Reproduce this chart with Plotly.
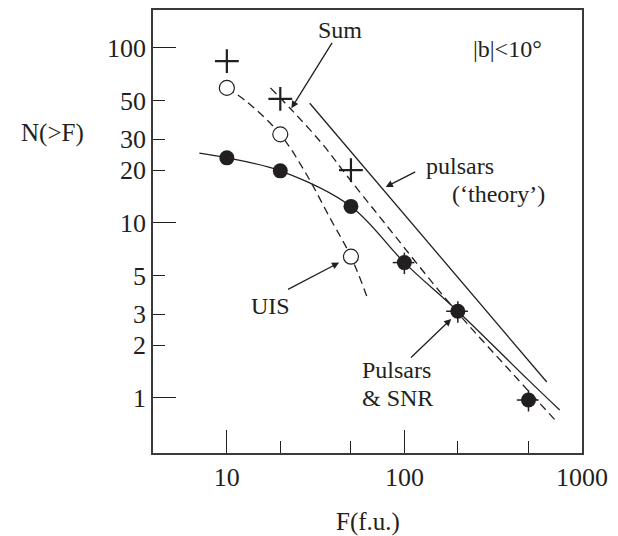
import numpy as np
import plotly.graph_objects as go

# ---- data ----
F_obs = [10, 20, 50, 100, 200, 500]
N_psr_snr = [23.5, 19.8, 12.4, 5.92, 3.12, 0.97]
F_uis_pts = [10, 20, 50]
N_uis_pts = [59, 32, 6.4]
F_sum_pts = [10, 20, 50]
N_sum_pts = [84, 51, 20]

fit_F = [7.0, 10, 20, 50, 100, 200, 500, 750]
fit_N = [25, 23.5, 19.8, 12.4, 5.92, 3.12, 1.26, 0.85]
uis_F = [10, 13, 20, 28, 38, 50, 62]
uis_N = [59, 49, 32, 19, 10.7, 6.4, 3.7]
sum_F = [17.6, 23.6, 34.8, 47, 76, 188, 408, 720]
sum_N = [59, 43.3, 27.9, 18.8, 10.2, 3.28, 1.37, 0.73]
theory_F = [29.3, 634]
theory_N = [48.2, 1.23]

x_major = [10, 100, 1000]
x_minor = [20, 50, 200, 500]
y_labels = [1, 2, 3, 5, 10, 20, 30, 50, 100]
y_long = [1, 10, 100]

FONT = "Liberation Serif, Times New Roman, serif"
INK = "#231f20"
DASH = "8px,5px"

fig = go.Figure()

fig.add_trace(go.Scatter(x=theory_F, y=theory_N, mode="lines", yaxis="y2",
                         line=dict(color=INK, width=1.3), showlegend=False))
fig.add_trace(go.Scatter(x=fit_F, y=fit_N, mode="lines", line_shape="spline",
                         line=dict(color=INK, width=1.3), showlegend=False))
fig.add_trace(go.Scatter(x=uis_F, y=uis_N, mode="lines", line_shape="spline",
                         line=dict(color=INK, width=1.3, dash=DASH), showlegend=False))
fig.add_trace(go.Scatter(x=sum_F, y=sum_N, mode="lines", line_shape="spline",
                         line=dict(color=INK, width=1.3, dash=DASH), showlegend=False))

# observed pulsars & SNR (filled), error bars only for the bright ones
err_pct = [0, 0, 0, 14, 14, 14]
fig.add_trace(go.Scatter(x=F_obs, y=N_psr_snr, mode="markers",
                         marker=dict(symbol="circle", size=15, color=INK,
                                     line=dict(color=INK, width=0)),
                         error_y=dict(type="data", symmetric=False,
                                      array=[n * p / 100 for n, p in zip(N_psr_snr, err_pct)],
                                      arrayminus=[n * p / 100 for n, p in zip(N_psr_snr, err_pct)],
                                      color=INK, thickness=1.5, width=0),
                         error_x=dict(type="data", symmetric=False,
                                      array=[f * p / 100 for f, p in zip(F_obs, err_pct)],
                                      arrayminus=[f * p / 100 for f, p in zip(F_obs, err_pct)],
                                      color=INK, thickness=1.5, width=0),
                         showlegend=False))
fig.add_trace(go.Scatter(x=F_uis_pts, y=N_uis_pts, mode="markers",
                         marker=dict(symbol="circle", size=15, color="white",
                                     line=dict(color=INK, width=1.2)),
                         showlegend=False))
fig.add_trace(go.Scatter(x=F_sum_pts, y=N_sum_pts, mode="markers",
                         marker=dict(symbol="cross-thin", size=17,
                                     line=dict(color=INK, width=2.2)),
                         showlegend=False))

x_range = [0.584, 3.0005]
y_range = [-0.316, 2.216]

fig.update_layout(
    width=618, height=536,
    margin=dict(l=153, r=36, t=8, b=83),
    paper_bgcolor="white", plot_bgcolor="white",
    font=dict(family=FONT, size=25, color=INK),
    xaxis=dict(type="log", range=x_range, tickmode="array", tickvals=x_major,
               ticktext=[str(v) for v in x_major], ticks="inside", ticklen=23,
               tickwidth=1.2, tickcolor=INK, showgrid=False, zeroline=False,
               showline=True, linecolor="#3a3a3a", linewidth=1.5, mirror=True,
               tickfont=dict(size=26),
               minor=dict(tickmode="array", tickvals=x_minor, ticks="inside",
                          ticklen=12, tickwidth=1.2, tickcolor=INK, showgrid=False)),
    yaxis=dict(type="log", range=y_range, tickmode="array", tickvals=y_labels,
               ticktext=[str(v) for v in y_labels], ticks="inside", ticklen=12,
               tickwidth=1.2, tickcolor=INK, showgrid=False, zeroline=False,
               showline=True, linecolor="#3a3a3a", linewidth=1.5, mirror=True,
               tickfont=dict(size=26)),
    yaxis2=dict(type="log", range=y_range, overlaying="y", side="left",
                tickmode="array", tickvals=y_long, ticks="inside", ticklen=23,
                tickwidth=1.2, tickcolor=INK, showticklabels=False,
                showgrid=False, zeroline=False, showline=False),
)

L, R, T, B = 153, 582, 8, 453


def px(xp):
    return (xp - L) / (R - L)


def py(yp):
    return (B - yp) / (B - T)


def txt(s, xp, yp, anchor="center", size=24):
    fig.add_annotation(text=s, x=px(xp), y=py(yp), xref="paper", yref="paper",
                       showarrow=False, xanchor=anchor, yanchor="middle",
                       font=dict(family=FONT, size=size, color=INK))


def arrow(fx, ny, ax, ay):
    fig.add_annotation(text="", x=np.log10(fx), y=np.log10(ny), xref="x", yref="y",
                       ax=ax, ay=ay, showarrow=True, arrowhead=2, arrowsize=1.1,
                       arrowwidth=1.3, arrowcolor=INK)


txt("Sum", 340, 28)
txt("|b|<10°", 507, 47)
txt("pulsars", 460, 165)
txt("(‘theory’)", 498, 193)
txt("UIS", 270, 305)
txt("Pulsars", 360, 370, anchor="left")
txt("& SNR", 360, 398, anchor="left")
txt("N(>F)", 52, 132, size=25)
txt("F(f.u.)", 368, 522, size=25)

arrow(23.1, 45.2, 41.6, -66.7)     # Sum
arrow(78.5, 16.0, 31, -16)         # pulsars theory
arrow(42.9, 5.92, -52.6, 27.6)     # UIS
arrow(183.6, 2.82, -41.7, 40)      # Pulsars & SNR

fig.write_html("out.html",
               config={"displayModeBar": False},
               post_script="document.body.style.margin='0';document.body.style.overflow='hidden';")
